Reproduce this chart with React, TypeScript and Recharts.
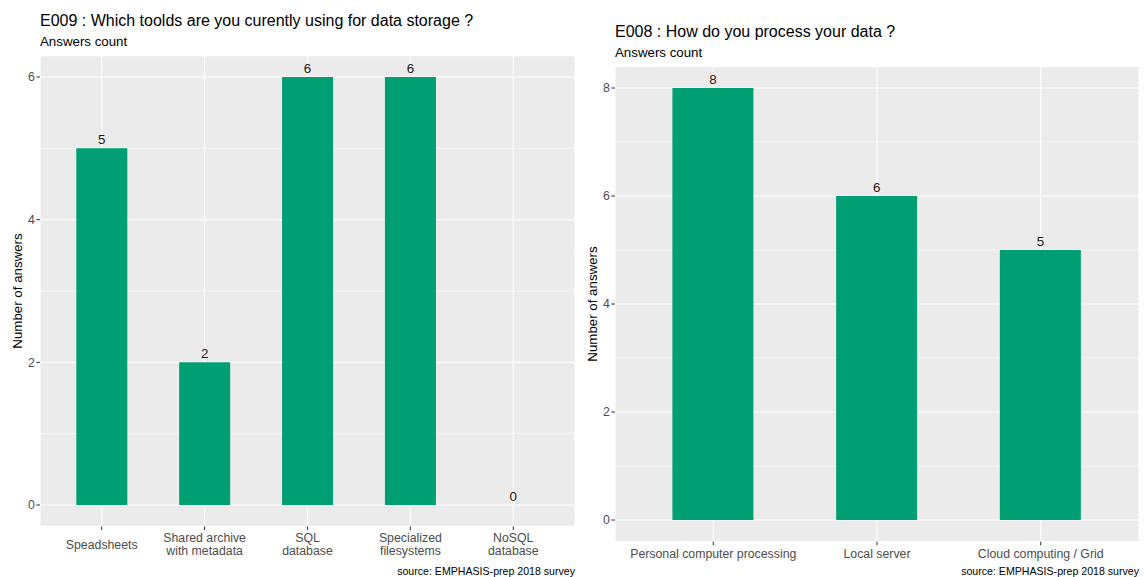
import { Bar, BarChart, CartesianGrid, LabelList, XAxis, YAxis } from "recharts";

const FONT = '"Liberation Sans", Arial, sans-serif';
const BAR_COLOR = "#009E73";

const storageCategories = [
  "Speadsheets",
  "Shared archive\nwith metadata",
  "SQL\ndatabase",
  "Specialized\nfilesystems",
  "NoSQL\ndatabase",
];
const storageCounts = [5, 2, 6, 6, 0];
const storageTicks = [0, 2, 4, 6];
const storageMinor = [1, 3, 5];

const processCategories = [
  "Personal computer processing",
  "Local server",
  "Cloud computing / Grid",
];
const processCounts = [8, 6, 5];
const processTicks = [0, 2, 4, 6, 8];
const processMinor = [1, 3, 5, 7];

// multi-line category label, single lines centred in the block like ggplot
const CategoryTick = (props: any) => {
  const { x, y, payload, lines } = props;
  const parts = String(payload.value).split("\n");
  const lineH = 13;
  const shift = ((lines - parts.length) * lineH) / 2;
  return (
    <text
      x={x}
      y={y}
      textAnchor="middle"
      fill="#4D4D4D"
      fontSize={12.3}
      fontFamily={FONT}
    >
      {parts.map((p, i) => (
        <tspan key={i} x={x} y={y + shift + 9.5 + i * lineH}>
          {p}
        </tspan>
      ))}
    </text>
  );
};

type PanelProps = {
  categories: string[];
  counts: number[];
  ticks: number[];
  minor: number[];
  domain: [number, number];
  width: number;
  height: number;
  yAxisWidth: number;
  top: number;
  xAxisHeight: number;
  bottom: number;
  pad: number;
  barSize: number;
  lines: number;
};

function CountPanel(p: PanelProps) {
  const data = p.categories.map((name, i) => ({ name, count: p.counts[i] }));
  return (
    <BarChart
      width={p.width}
      height={p.height}
      data={data}
      margin={{ top: p.top, right: 5, left: 0, bottom: p.bottom }}
    >
      <CartesianGrid stroke="#FFFFFF" strokeWidth={1.1} fill="#EBEBEB" fillOpacity={1} />
      {/* minor grid: a hidden axis carrying the in-between ticks */}
      <CartesianGrid
        yAxisId="minor"
        stroke="#FFFFFF"
        strokeWidth={0.55}
        vertical={false}
      />
      <XAxis
        dataKey="name"
        axisLine={false}
        tickLine={{ stroke: "#333333" }}
        tickSize={3.7}
        tickMargin={2.8}
        height={p.xAxisHeight}
        padding={{ left: p.pad, right: p.pad }}
        interval={0}
        tick={<CategoryTick lines={p.lines} />}
      />
      <YAxis
        type="number"
        domain={p.domain}
        allowDataOverflow
        ticks={p.ticks}
        width={p.yAxisWidth}
        axisLine={false}
        tickLine={{ stroke: "#333333" }}
        tickSize={3.7}
        tickMargin={1.5}
        tick={{ fill: "#4D4D4D", fontSize: 12.3, fontFamily: FONT }}
      />
      <YAxis
        yAxisId="minor"
        type="number"
        domain={p.domain}
        allowDataOverflow
        ticks={p.minor}
        hide
      />
      <Bar
        dataKey="count"
        fill={BAR_COLOR}
        barSize={p.barSize}
        minPointSize={0.01}
        isAnimationActive={false}
      >
        <LabelList
          dataKey="count"
          position="top"
          offset={4}
          fill="#1A1A1A"
          fontSize={13.3}
          fontFamily={FONT}
        />
      </Bar>
    </BarChart>
  );
}

export default function App() {
  return (
    <div
      style={{
        position: "absolute",
        left: 0,
        top: 0,
        width: 1144,
        height: 577,
        background: "#FFFFFF",
        fontFamily: FONT,
      }}
    >
      <div style={{ position: "absolute", left: 0, top: 0 }}>
        <CountPanel
          categories={storageCategories}
          counts={storageCounts}
          ticks={storageTicks}
          minor={storageMinor}
          domain={[-0.3, 6.3]}
          width={580}
          height={577}
          yAxisWidth={40}
          top={55.6}
          xAxisHeight={40}
          bottom={10.6}
          pad={10.3}
          barSize={51}
          lines={2}
        />
      </div>
      <div style={{ position: "absolute", left: 580, top: 0 }}>
        <CountPanel
          categories={processCategories}
          counts={processCounts}
          ticks={processTicks}
          minor={processMinor}
          domain={[-0.4, 8.4]}
          width={564}
          height={577}
          yAxisWidth={35}
          top={66.4}
          xAxisHeight={30}
          bottom={5.4}
          pad={16.4}
          barSize={81}
          lines={1}
        />
      </div>
      <svg
        width={1144}
        height={577}
        style={{ position: "absolute", left: 0, top: 0, pointerEvents: "none" }}
        fontFamily={FONT}
      >
        <text x={40} y={26} fontSize={16} fill="#000">
          E009 : Which toolds are you curently using for data storage ?
        </text>
        <text x={40} y={46} fontSize={13.3} fill="#000">
          Answers count
        </text>
        <text x={575} y={575} fontSize={10.6} fill="#000" textAnchor="end">
          source: EMPHASIS-prep 2018 survey
        </text>
        <text x={22} y={291} fontSize={13.3} fill="#000" textAnchor="middle" transform="rotate(-90, 22, 291)">
          Number of answers
        </text>

        <text x={615} y={36.5} fontSize={16} fill="#000">
          E008 : How do you process your data ?
        </text>
        <text x={615} y={56.5} fontSize={13.3} fill="#000">
          Answers count
        </text>
        <text x={1139} y={575} fontSize={10.6} fill="#000" textAnchor="end">
          source: EMPHASIS-prep 2018 survey
        </text>
        <text x={597} y={304} fontSize={13.3} fill="#000" textAnchor="middle" transform="rotate(-90, 597, 304)">
          Number of answers
        </text>
      </svg>
    </div>
  );
}
